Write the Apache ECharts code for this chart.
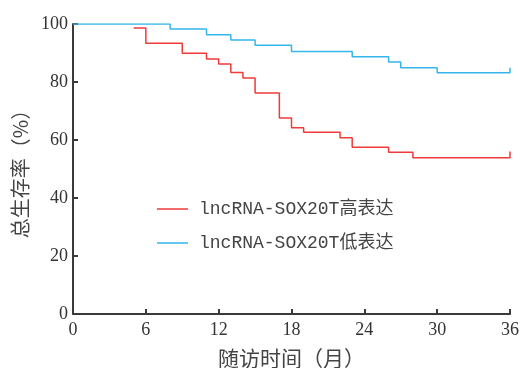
<!DOCTYPE html>
<html>
<head>
<meta charset="utf-8">
<script src="https://cdn.jsdelivr.net/npm/echarts@6/dist/echarts.min.js"></script>
<style>
  html, body { margin: 0; padding: 0; background: #fff; }
  #chart { width: 520px; height: 368px; }
</style>
</head>
<body>
<div id="chart"></div>
<script>
// survival curves (month, %)
var highName = 'lncRNA-SOX20T高表达'
var lowName = 'lncRNA-SOX20T低表达'
var highTimes = [5, 6, 9, 11, 12, 13, 14, 15, 17, 18, 19, 22, 23, 26, 28, 36, 36]
var highSurv = [98.6, 93.4, 89.9, 87.9, 86.2, 83.3, 81.4, 76.2, 67.6, 64.2, 62.7, 60.8, 57.5, 55.8, 53.9, 53.9, 56.0]
var lowTimes = [0, 8, 11, 13, 15, 18, 23, 26, 27, 30, 36, 36]
var lowSurv = [100, 98.3, 96.3, 94.5, 92.7, 90.5, 88.7, 86.9, 84.9, 83.2, 83.2, 84.9]
var xTicks = [0, 6, 12, 18, 24, 30, 36]
var yTicks = [0, 20, 40, 60, 80, 100]

var myChart = echarts.init(document.getElementById('chart'))

function pairs(xs, ys) {
  return xs.map(function (x, i) { return [x, ys[i]] })
}

var axisLine = { show: true, lineStyle: { color: '#3a3a3a', width: 2 } }
var axisTick = { show: true, inside: true, length: 5, lineStyle: { color: '#3a3a3a', width: 2 } }
var labelFont = { fontFamily: 'Liberation Serif', fontSize: 18, color: '#333' }

var option = {
  backgroundColor: '#fff',
  animation: false,
  grid: { left: 73, right: 10, top: 24, bottom: 54, outerBoundsMode: 'none' },
  legend: {
    orient: 'vertical',
    left: 152,
    top: 195,
    icon: 'rect',
    itemWidth: 31,
    itemHeight: 1.5,
    itemGap: 16,
    textStyle: {
      fontFamily: 'Liberation Mono, Noto Sans CJK SC',
      fontSize: 18,
      color: '#444',
      padding: [0, 0, 0, 6]
    },
    data: [highName, lowName]
  },
  xAxis: {
    type: 'value',
    min: 0,
    max: 36,
    interval: 6,
    name: '随访时间（月）',
    nameLocation: 'middle',
    nameGap: 34,
    nameTextStyle: { fontFamily: 'Noto Sans CJK SC', fontSize: 21, color: '#444' },
    axisLine: axisLine,
    axisTick: axisTick,
    axisLabel: Object.assign({ margin: 7, formatter: function (v) { return xTicks.indexOf(v) >= 0 ? v : '' } }, labelFont),
    splitLine: { show: false }
  },
  yAxis: {
    type: 'value',
    min: 0,
    max: 100,
    interval: 20,
    name: '总生存率（%）',
    nameLocation: 'middle',
    nameGap: 39,
    nameTextStyle: { fontFamily: 'Noto Sans CJK SC', fontSize: 20, color: '#444' },
    axisLine: axisLine,
    axisTick: axisTick,
    axisLabel: Object.assign({ margin: 5, formatter: function (v) { return yTicks.indexOf(v) >= 0 ? v : '' } }, labelFont),
    splitLine: { show: false }
  },
  series: [
    {
      name: highName,
      type: 'line',
      step: 'end',
      symbol: 'none',
      color: '#f03a3a',
      lineStyle: { width: 1.5, color: '#f03a3a' },
      data: pairs(highTimes, highSurv)
    },
    {
      name: lowName,
      type: 'line',
      step: 'end',
      symbol: 'none',
      color: '#35b6ea',
      lineStyle: { width: 1.5, color: '#35b6ea' },
      data: pairs(lowTimes, lowSurv)
    }
  ]
}

myChart.setOption(option)
</script>
</body>
</html>
